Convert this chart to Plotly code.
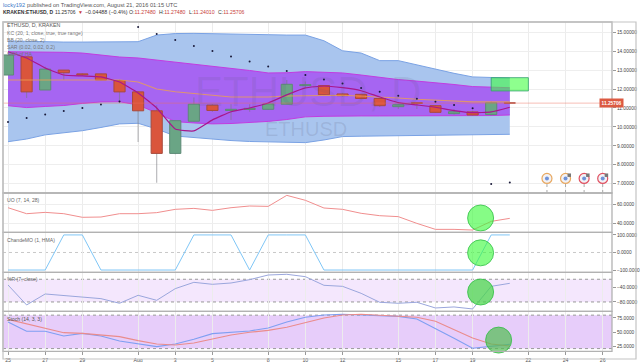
import plotly.graph_objects as go

W, H = 640, 362
day = list(range(28))
tick_pos = [0, 2, 4, 7, 9, 11, 14, 16, 18, 21, 23, 25, 28, 30, 32]
tick_txt = ["25", "27", "29", "Aug", "3", "5", "8", "10", "12", "15", "17", "19", "22", "24", "26"]

open_ = [12.74, 13.70, 11.95, 13.00, 12.80, 12.80, 12.45, 11.85, 10.85, 8.60, 10.30, 11.15, 10.87, 10.92,
         10.93, 11.20, 12.18, 12.18, 11.74, 11.72, 11.50, 11.07, 11.27, 11.12, 10.70, 10.79, 10.65, 11.27]
close = [13.80, 11.85, 13.05, 12.86, 12.75, 12.48, 11.85, 10.85, 8.60, 10.33, 11.20, 10.87, 10.93, 10.98,
         11.21, 12.25, 12.23, 11.70, 11.65, 11.50, 11.12, 11.17, 11.25, 10.77, 10.80, 10.63, 11.28, 11.257]
high = [13.80, 13.70, 13.18, 13.00, 12.85, 12.82, 12.50, 11.90, 11.15, 10.33, 11.55, 11.20, 11.20, 11.20,
        11.25, 12.48, 12.40, 12.20, 11.80, 11.75, 11.55, 11.20, 11.30, 11.15, 10.95, 10.85, 11.35, 11.27]
low = [12.74, 11.53, 11.95, 12.48, 12.70, 12.45, 11.26, 9.20, 7.05, 8.55, 10.28, 10.80, 10.37, 10.80,
       10.90, 11.20, 12.10, 11.65, 11.60, 11.45, 11.05, 10.95, 10.95, 10.75, 10.65, 10.60, 10.60, 11.24]

bb_up = [14.54, 14.51, 14.48, 14.48, 14.48, 14.48, 14.48, 14.50, 14.85, 14.93, 14.94, 14.93, 14.90, 14.89,
         14.87, 14.85, 14.85, 14.55, 14.02, 13.90, 13.50, 13.50, 13.27, 13.04, 12.83, 12.64, 12.61, 12.58]
bb_lo = [9.22, 9.36, 9.58, 9.68, 9.80, 9.97, 10.16, 10.19, 9.89, 9.52, 9.43, 9.34, 9.28, 9.23,
         9.21, 9.18, 9.17, 9.31, 9.49, 9.51, 9.52, 9.54, 9.55, 9.56, 9.56, 9.58, 9.60, 9.61]
kc_up = [13.97, 13.96, 13.96, 13.94, 13.90, 13.80, 13.69, 13.64, 13.53, 13.43, 13.32, 13.22, 13.11, 12.98,
         12.85, 12.86, 12.92, 12.90, 12.85, 12.74, 12.61, 12.50, 12.42, 12.35, 12.24, 12.13, 12.11, 12.07]
kc_lo = [11.12, 11.02, 11.08, 11.13, 11.24, 11.32, 11.33, 11.16, 10.74, 10.28, 10.21, 10.16, 10.18, 10.23,
         10.29, 10.39, 10.53, 10.56, 10.58, 10.58, 10.58, 10.58, 10.58, 10.58, 10.58, 10.58, 10.60, 10.63]
sma_ha = [13.97, 13.64, 13.11, 12.74, 12.69, 12.64, 12.37, 11.79, 11.00, 9.89, 9.79, 10.37, 10.80, 11.00,
          11.26, 11.69, 12.06, 12.16, 12.07, 11.91, 11.58, 11.28, 11.16, 11.04, 10.86, 10.75, 10.79, 11.04]
kc_mid = [12.48, 12.48, 12.48, 12.50, 12.50, 12.50, 12.48, 12.37, 12.00, 11.86, 11.77, 11.69, 11.58, 11.58,
          11.58, 11.63, 11.66, 11.66, 11.67, 11.63, 11.58, 11.53, 11.46, 11.42, 11.37, 11.32, 11.32, 11.32]
sar = [10.26, 10.47, 10.66, 10.84, 11.00, 11.18, 11.34, 15.27, 14.91, 14.59, 14.27, 14.01, 13.72, 13.45,
       13.19, 12.95, 12.74, 12.50, 12.29, 12.06, 11.86, 11.65, 11.49, 11.33, 11.16, 10.98, 6.99, 7.07]

uo = [56.1, 49.8, 51.2, 49.8, 46.0, 46.3, 49.8, 49.8, 50.9, 54.4, 55.4, 53.3, 56.1, 57.9,
      57.5, 69.1, 63.9, 55.8, 54.4, 50.2, 47.7, 46.7, 39.6, 33.3, 33.3, 32.6, 41.7, 44.9]
cmo = [-100, -100, -100, 100, 100, -100, -100, -100, -100, -100, 100, 100, 100, -100,
       100, 100, 100, -100, -100, -100, -100, -100, -100, -100, -100, -100, 100, 100]
pct_r = [-33.6, -88.2, -58.2, -62.7, -65.5, -70.9, -83.6, -61.8, -75.5, -43.6, -26.4, -31.8, -28.2, -19.1,
         -6.4, -4.5, -10.9, -34.5, -37.3, -56.4, -80.9, -83.6, -80.9, -96.4, -93.6, -99.1, -37.3, -29.1]
stoch_k = [67.9, 51.5, 51.5, 43.2, 47.9, 43.2, 34.4, 29.1, 24.4, 29.1, 37.4, 47.4, 49.7, 52.1,
           57.4, 67.9, 76.2, 80.3, 81.5, 80.3, 78.5, 77.9, 73.2, 56.8, 39.1, 21.5, 25.0, 28.5]
stoch_d = [72.6, 64.4, 57.4, 49.1, 47.9, 45.0, 42.1, 35.0, 29.1, 27.4, 30.9, 37.9, 45.0, 49.7,
           53.2, 58.5, 66.8, 75.0, 80.3, 81.5, 79.7, 78.5, 76.2, 69.1, 55.0, 39.7, 29.1, 25.6]

last_price = 11.25706
box_x = [26, 28, 28, 26, 26]
box_y = [11.9, 11.9, 12.6, 12.6, 11.9]
event_x = [29, 30, 31, 32]
event_y = [7.28, 7.28, 7.28, 7.28]
event_line = ["#e8a860", "#e8a860", "#e05060", "#e05060"]
badge_x = [30.2, 31.2, 32.2]
badge_y = [7.45, 7.45, 7.45]
circle_x = [25.43, 25.43, 25.43, 26.4]
circle_y = [45.3, -2, -52.8, 36]
circle_fill = ["rgba(60,250,60,.62)", "rgba(60,250,60,.62)", "rgba(70,215,70,.72)", "rgba(80,190,80,.70)"]

FONT = "Liberation Sans"
fig = go.Figure()


def band(x, hi, lo, fill, line, y="y"):
    fig.add_trace(go.Scatter(x=x, y=hi, yaxis=y, mode="lines", line=dict(color=line, width=1), hoverinfo="skip"))
    fig.add_trace(go.Scatter(x=x, y=lo, yaxis=y, mode="lines", line=dict(color=line, width=1), fill="tonexty",
                             fillcolor=fill, hoverinfo="skip"))


band(day, bb_up, bb_lo, "#a9c5ee", "#7aa2e4")
band(day, kc_up, kc_lo, "#a665f2", "#c23ce0")

up = [c >= o for o, c in zip(open_, close)]
fig.add_trace(go.Bar(x=day, y=[h - l for h, l in zip(high, low)], base=low, width=0.06, yaxis="y2",
                     marker=dict(color="rgba(120,120,125,.55)", line=dict(width=0)), hoverinfo="skip"))
fig.add_trace(go.Bar(x=day, y=[abs(c - o) for o, c in zip(open_, close)], base=[min(o, c) for o, c in zip(open_, close)],
                     width=0.6, yaxis="y2", hoverinfo="skip",
                     marker=dict(color=["#6aa585" if u else "#da553c" for u in up],
                                 line=dict(color=["#5d8a76" if u else "#a84a3c" for u in up], width=1))))
fig.add_trace(go.Scatter(x=day, y=kc_mid, yaxis="y2", mode="lines", line=dict(color="rgba(236,160,80,.8)", width=1.1), hoverinfo="skip"))
fig.add_trace(go.Scatter(x=day, y=sma_ha, yaxis="y2", mode="lines", line=dict(color="#a8168c", width=1.2, shape="spline", smoothing=0.4), hoverinfo="skip"))
fig.add_trace(go.Scatter(x=day, y=sar, yaxis="y2", mode="markers", marker=dict(color="#1a1a3a", size=2), hoverinfo="skip"))
fig.add_trace(go.Scatter(x=box_x, y=box_y, yaxis="y2", mode="lines", fill="toself", fillcolor="rgba(60,255,60,.58)",
                         line=dict(color="rgba(50,160,110,.8)", width=1), hoverinfo="skip"))
for ex, ey, ec in zip(event_x, event_y, event_line):
    fig.add_trace(go.Scatter(x=[ex, ex], y=[6.51, ey], yaxis="y2", mode="lines",
                             line=dict(color="#aaaaaa", width=1, dash="dot"), hoverinfo="skip"))
    fig.add_trace(go.Scatter(x=[ex], y=[ey], yaxis="y2", mode="markers", cliponaxis=False,
                             marker=dict(color="#f2f2f6", size=10, line=dict(color=ec, width=1.2)), hoverinfo="skip"))
    fig.add_trace(go.Scatter(x=[ex], y=[ey], yaxis="y2", mode="markers",
                             marker=dict(color="#6f92d8", size=4), hoverinfo="skip"))
fig.add_trace(go.Scatter(x=badge_x, y=badge_y, yaxis="y2", mode="markers",
                         marker=dict(color="#777777", size=3.5, symbol="square"), hoverinfo="skip"))

fig.add_trace(go.Scatter(x=day, y=uo, yaxis="y3", mode="lines", line=dict(color="#f08e8e", width=1), hoverinfo="skip"))
fig.add_trace(go.Scatter(x=day, y=cmo, yaxis="y4", mode="lines", line=dict(color="#7fc6f6", width=1), hoverinfo="skip"))
fig.add_trace(go.Scatter(x=day, y=pct_r, yaxis="y5", mode="lines", line=dict(color="#9aa6dc", width=1), hoverinfo="skip"))
fig.add_trace(go.Scatter(x=day, y=stoch_k, yaxis="y6", mode="lines", line=dict(color="#7f9ff2", width=1.1), hoverinfo="skip"))
fig.add_trace(go.Scatter(x=day, y=stoch_d, yaxis="y6", mode="lines", line=dict(color="#ea8c8c", width=1.1), hoverinfo="skip"))
for cx, cy, cf, ya in zip(circle_x, circle_y, circle_fill, ["y3", "y4", "y5", "y6"]):
    fig.add_trace(go.Scatter(x=[cx], y=[cy], yaxis=ya, mode="markers", cliponaxis=False, hoverinfo="skip",
                             marker=dict(size=26, color=cf, line=dict(color="rgba(50,190,70,.8)", width=1))))


def dom(top, bottom):
    return [1 - bottom / H, 1 - top / H]


def yax(top, bottom, rng, vals, fmt, grid=True):
    return dict(domain=dom(top, bottom), range=rng, side="right", anchor="x", tickvals=vals, tickformat=fmt,
                ticks="outside", ticklen=3, tickcolor="#999999", tickwidth=1,
                tickfont=dict(family=FONT, size=4.8, color="#444444"),
                showgrid=grid, gridcolor="#eeeeee", gridwidth=1, zeroline=False, showline=False)


main_rng = [6.51, 15.54]
price_ticks = [7, 8, 9, 10, 11, 12, 13, 14, 15]
y2 = dict(overlaying="y", range=main_rng, visible=False, anchor="x", side="right")

shapes = []
for axis, top_v, bot_v, col in [("y5", -18, -80, "#f4e7fd"), ("y6", 80, 21, "#e7cdfa")]:
    shapes.append(dict(type="rect", xref="x domain", x0=0, x1=1, yref=axis, y0=bot_v, y1=top_v, fillcolor=col,
                       line=dict(width=0), layer="below"))
    for v in (top_v, bot_v):
        shapes.append(dict(type="line", xref="x domain", x0=0, x1=1, yref=axis, y0=v, y1=v,
                           line=dict(color="#999999", width=1, dash="dot"), layer="below"))
shapes.append(dict(type="line", xref="x domain", x0=0, x1=1, yref="y4", y0=0, y1=0,
                   line=dict(color="#c8c8c8", width=1, dash="dot"), layer="below"))
shapes.append(dict(type="line", xref="x domain", x0=0, x1=1, yref="y", y0=last_price, y1=last_price,
                   line=dict(color="rgba(235,110,90,.45)", width=1), layer="above"))
for axis in ["y", "y3", "y4", "y5", "y6"]:
    shapes.append(dict(type="rect", xref="x domain", x0=0, x1=1, yref=axis + " domain", y0=0, y1=1,
                       line=dict(color="#b2b2b2", width=1.3), layer="above"))
shapes.append(dict(type="rect", xref="paper", yref="paper", x0=3 / W, x1=636 / W, y0=1 - 359 / H, y1=1 - 22 / H,
                   line=dict(color="#c4c4c4", width=1.2), layer="above"))


def txt(x, y, s, size=5.6, color="#666666", bold=False, anchor="left"):
    return dict(xref="paper", yref="paper", x=x / W, y=1 - y / H, text=f"<b>{s}</b>" if bold else s, showarrow=False,
                xanchor=anchor, yanchor="middle", font=dict(family=FONT, size=size, color=color), borderpad=0)


red = "#c8403a"
dark = "#333333"


def ohlc(label, value):
    return f"{label}:<span style='color:{red}'>{value}</span>"


ann = [
    txt(2, 5, "locky192", 5.6, "#3b78c8"), txt(26, 5, "published on TradingView.com, August 21, 2016 01:15 UTC", 5.7, "#555555"),
    txt(2, 12, "KRAKEN:ETHUSD, D", 5.0, dark, True), txt(54, 12, "11.25706", 5.0, dark),
    txt(77, 12, "▼", 5.0, red), txt(84, 12, "−0.04488 (−0.4%)", 5.3, dark),
    txt(128, 12, ohlc("O", "11.27480"), 5.2, dark),
    txt(158, 12, ohlc("H", "11.27480"), 5.2, dark),
    txt(188, 12, ohlc("L", "11.24010"), 5.2, dark),
    txt(217, 12, ohlc("C", "11.25706"), 5.2, dark),
    txt(6, 25, "ETHUSD, D, KRAKEN", 5.3, "#555555"),
    txt(6, 33, "KC (20, 1, close, true, true range)", 5.1, "#777777"),
    txt(6, 40, "BB (20, close, 2)", 5.1, "#777777"),
    txt(6, 47, "SAR (0.02, 0.02, 0.2)", 5.1, "#777777"),
    txt(6, 54, "SMA of HA", 5.1, "#777777"),
    txt(6, 200, "UO (7, 14, 28)", 5.1, "#666666"),
    txt(6, 239.7, "ChandeMO (1, HMA)", 5.1, "#666666"),
    txt(6, 279.3, "%R (7, close)", 5.1, "#666666"),
    txt(6, 319, "Stoch (14, 3, 3)", 5.1, "#555555"),
    txt(308, 91, "ETHUSD, D", 42, "rgba(90,90,120,.13)", anchor="center"),
    txt(306, 129, "ETHUSD", 20, "rgba(90,90,120,.16)", anchor="center"),
    dict(xref="paper", yref="y", x=623.5 / W, y=last_price, text="<b>11.25706</b>", showarrow=False, bgcolor="#dc5a42",
         font=dict(family=FONT, size=4.8, color="#ffffff"), borderpad=1.5),
]

fig.update_layout(
    width=W, height=H, margin=dict(l=0, r=0, t=0, b=0), autosize=False, showlegend=False,
    paper_bgcolor="#ffffff", plot_bgcolor="#ffffff", barmode="overlay",
    shapes=shapes, annotations=ann,
    xaxis=dict(domain=[3 / W, 612 / W], range=[-0.27, 32.5], anchor="y6", tickvals=tick_pos, ticktext=tick_txt,
               ticks="outside", ticklen=3, tickcolor="#999999", tickfont=dict(family=FONT, size=5.2, color="#555555"),
               showgrid=True, gridcolor="#ececec", zeroline=False, showline=False),
    yaxis=yax(22, 193, main_rng, price_ticks, ".5f"),
    yaxis2=y2,
    yaxis3=yax(193, 232.3, [30.2, 71.6], [40, 60], ".4f"),
    yaxis4=yax(232.3, 272.3, [-113, 115], [-100, 0, 100], ".4f", False),
    yaxis5=yax(272.3, 311.3, [-105.5, 1], [-40, -80], ".4f", False),
    yaxis6=yax(311.3, 351.3, [16.2, 86.8], [25, 50, 75], ".4f", False),
)
fig.write_html("out.html", config=dict(displayModeBar=False),
               post_script="document.body.style.margin='0';document.documentElement.style.overflow='hidden';")
